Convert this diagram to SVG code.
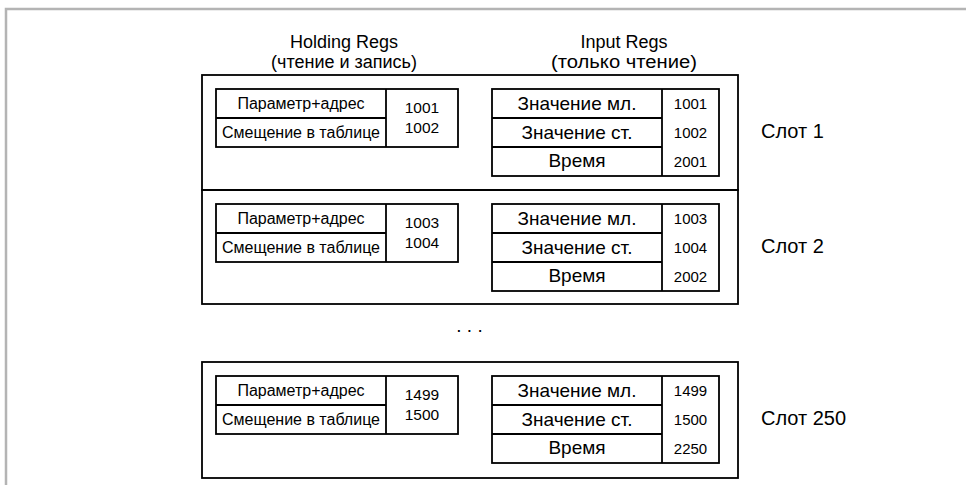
<svg xmlns="http://www.w3.org/2000/svg" width="966" height="485" viewBox="0 0 966 485">
<style>
.box{fill:none;stroke:#000;stroke-width:1.8}
.t{font-family:"Liberation Sans",Arial,sans-serif;fill:#000;text-anchor:middle}
.hd{font-size:18px}
.sm{font-size:16px}
.lg{font-size:19px}
.num{font-size:15px}
.hnum{font-size:15.5px}
.slot{font-family:"Liberation Sans",Arial,sans-serif;font-size:20px;fill:#000}
</style>
<defs>
<g id="slotbody">
<rect class="box" x="216" y="14" width="242" height="58"/>
<line class="box" x1="216" y1="43" x2="386" y2="43"/>
<line class="box" x1="386" y1="14" x2="386" y2="72"/>
<text class="t sm" x="301" y="34">Параметр+адрес</text>
<text class="t sm" x="301" y="63">Смещение в таблице</text>
<rect class="box" x="492" y="14" width="227" height="87"/>
<line class="box" x1="492" y1="43" x2="662" y2="43"/>
<line class="box" x1="492" y1="72" x2="662" y2="72"/>
<line class="box" x1="662" y1="14" x2="662" y2="101"/>
<text class="t lg" x="577" y="35">Значение мл.</text>
<text class="t lg" x="577" y="64">Значение ст.</text>
<text class="t lg" x="577" y="92">Время</text>
</g>
</defs>
<path d="M6,485 V9 H966" fill="none" stroke="#b4b4b4" stroke-width="2.5"/>
<g id="headers">
<text class="t hd" x="344" y="48">Holding Regs</text>
<text class="t hd" x="344" y="68">(чтение и запись)</text>
<text class="t hd" x="624" y="48">Input Regs</text>
<text class="t hd" x="624" y="68" textLength="146" lengthAdjust="spacingAndGlyphs">(только чтение)</text>
</g>
<g id="slot1" transform="translate(0,75)">
<rect class="box" x="202" y="0" width="536" height="115"/>
<use href="#slotbody"/>
<text class="t hnum" x="422" y="38">1001</text>
<text class="t hnum" x="422" y="58">1002</text>
<text class="t num" x="690.5" y="34">1001</text>
<text class="t num" x="690.5" y="63">1002</text>
<text class="t num" x="690.5" y="92">2001</text>
<text class="slot" x="761" y="63">Слот 1</text>
</g>
<g id="slot2" transform="translate(0,190)">
<rect class="box" x="202" y="0" width="536" height="114"/>
<use href="#slotbody"/>
<text class="t hnum" x="422" y="38">1003</text>
<text class="t hnum" x="422" y="58">1004</text>
<text class="t num" x="690.5" y="34">1003</text>
<text class="t num" x="690.5" y="63">1004</text>
<text class="t num" x="690.5" y="92">2002</text>
<text class="slot" x="761" y="63">Слот 2</text>
</g>
<g id="ellipsis">
<text class="t" x="469.5" y="332" style="font-size:19px">. . .</text>
</g>
<g id="slot250" transform="translate(0,362)">
<rect class="box" x="202" y="0" width="536" height="116"/>
<use href="#slotbody"/>
<text class="t hnum" x="422" y="38">1499</text>
<text class="t hnum" x="422" y="58">1500</text>
<text class="t num" x="690.5" y="34">1499</text>
<text class="t num" x="690.5" y="63">1500</text>
<text class="t num" x="690.5" y="92">2250</text>
<text class="slot" x="761" y="63">Слот 250</text>
</g>
<g id="connectors"/>
</svg>
